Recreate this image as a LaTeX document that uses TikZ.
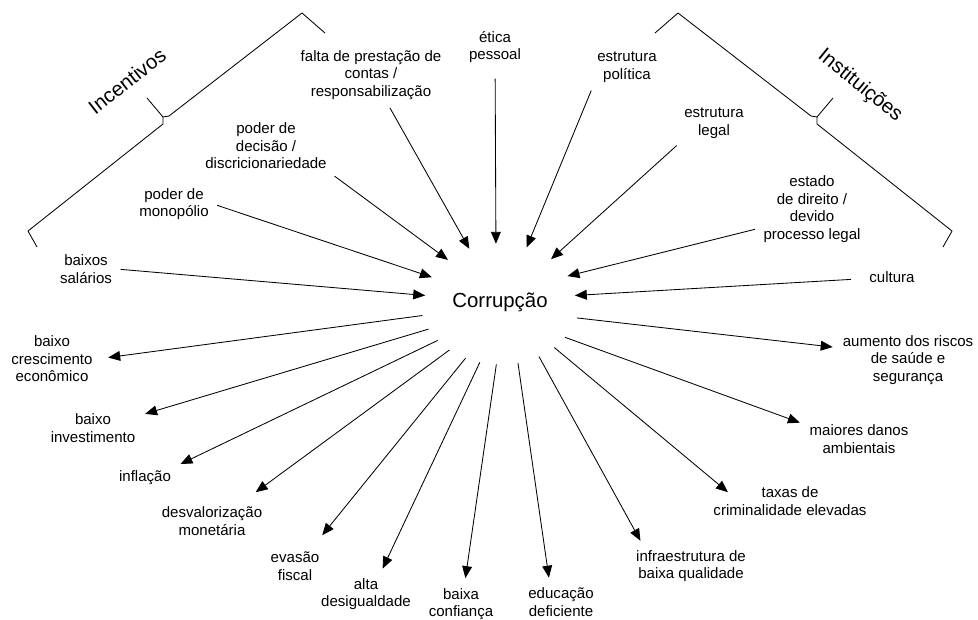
\documentclass[tikz,border=0pt]{standalone}
\usepackage{fontspec}
\setmainfont{Liberation Sans}
\usetikzlibrary{arrows.meta,shapes.geometric}

\begin{document}
\begin{tikzpicture}[
    x=0.025cm, y=-0.025cm,
    every node/.style={font=\fontsize{10.7}{12.5}\selectfont},
    lbl/.style={align=center, inner sep=3pt},
    big/.style={font=\fontsize{14.5}{17}\selectfont},
    arr/.style={-{Triangle[length=8.5pt, width=7pt]}, line width=0.6pt},
    inarr/.style={arr, shorten <=3pt},
    outarr/.style={arr, shorten <=3pt, shorten >=4pt},
    brace/.style={line width=0.6pt, line join=round}
]
\useasboundingbox (0,0) rectangle (978,619);

% Centre
\node[big, shape=ellipse, minimum width=3.75cm, minimum height=2.9cm] (corr) at (500,302) {Corrupção};

% Causes
\node[lbl] (sal)    at (86,269)  {baixos\\salários};
\node[lbl] (mono)   at (174,204) {poder de\\monopólio};
\node[lbl] (disc)   at (266,146) {poder de\\decisão /\\discricionariedade};
\node[lbl] (fpc)    at (371,75)  {falta de prestação de\\contas /\\responsabilização};
\node[lbl] (etica)  at (495,47)  {ética\\pessoal};
\node[lbl] (pol)    at (627,67)  {estrutura\\política};
\node[lbl] (legal)  at (714,123) {estrutura\\legal};
\node[lbl] (estado) at (812,209) {estado\\de direito /\\devido\\processo legal};
\node[lbl] (cult)   at (892,277) {cultura};

% Consequences
\node[lbl] (cresc)  at (52,359)  {baixo\\crescimento\\econômico};
\node[lbl] (inv)    at (93,428)  {baixo\\investimento};
\node[lbl] (infl)   at (145,478) {inflação};
\node[lbl] (desv)   at (212,521) {desvalorização\\monetária};
\node[lbl] (eva)    at (295,566) {evasão\\fiscal};
\node[lbl] (desig)  at (366,594) {alta\\desigualdade};
\node[lbl] (conf)   at (461,604) {baixa\\confiança};
\node[lbl] (edu)    at (561,602) {educação\\deficiente};
\node[lbl] (infra)  at (691,566) {infraestrutura de\\baixa qualidade};
\node[lbl] (tax)    at (790,501) {taxas de\\criminalidade elevadas};
\node[lbl] (dano)   at (859,439) {maiores danos\\ambientais};
\node[lbl] (aum)    at (908,360) {aumento dos riscos\\de saúde e\\segurança};

% Groups
\node[big, rotate=38]  (inc)  at (127,81) {Incentivos};
\node[big, rotate=-39] (inst) at (860,86) {Instituições};

% Brackets
\draw[brace] (37,247) -- (28,231) -- (163,124) -- (163,117) -- (147,98);
\draw[brace] (163,117) -- (169,116) -- (302,13) -- (325,33);
\draw[brace] (943,247) -- (952,231) -- (817,124) -- (817,117) -- (833,98);
\draw[brace] (817,117) -- (811,116) -- (678,13) -- (655,33);

% Arrows in
\draw[inarr] (sal.east) -- (corr.175);
\draw[inarr] (mono.east) -- (corr.160);
\draw[inarr] (disc.south east) -- (corr.141);
\draw[inarr] (fpc.-60) -- (corr.120);
\draw[inarr, shorten <=8pt] (etica) -- (corr.94);
\draw[inarr] (pol.south west) -- (corr.64);
\draw[inarr] (legal.south west) -- (corr.40);
\draw[inarr] (estado.200) -- (corr.21);
\draw[inarr, shorten <=10pt] (cult) -- (corr.5);

% Arrows out
\draw[outarr] (corr.348) -- (aum.170);
\draw[outarr] (corr.331) -- (dano.165);
\draw[outarr, shorten >=0pt] (corr.320) -- ([shift={(19,10)}]tax.north west);
\draw[outarr] (corr.306) -- (infra.157);
\draw[outarr] (corr.287) -- (edu.121);
\draw[outarr] (corr.267) -- (conf.80);
\draw[outarr] (corr.252) -- (desig.55);
\draw[outarr, shorten >=11pt] (corr.239) -- (eva.47);
\draw[outarr, shorten >=12pt] (corr.224) -- (desv.32);
\draw[outarr] (corr.212) -- (infl.north east);
\draw[outarr] (corr.201) -- (inv.15);
\draw[outarr, shorten >=8pt] (corr.190) -- (cresc.east);

\end{tikzpicture}
\end{document}
